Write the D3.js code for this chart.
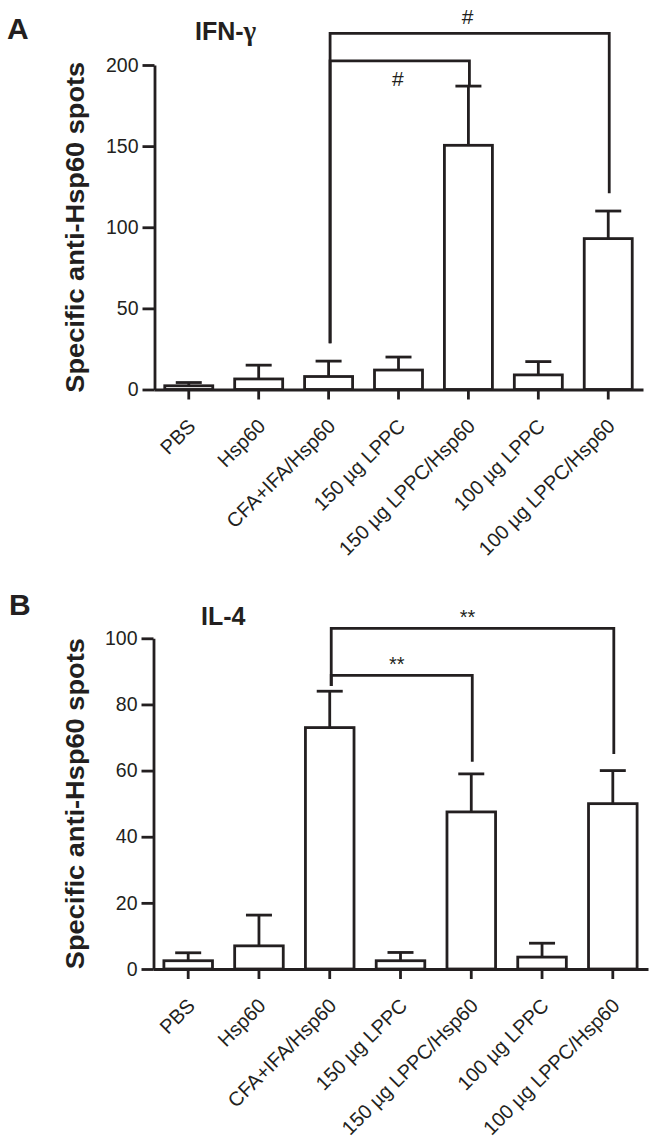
<!DOCTYPE html>
<html><head><meta charset="utf-8">
<script src="https://cdn.jsdelivr.net/npm/d3@7"></script>
<style>
html,body{margin:0;padding:0;background:#fff;}
svg{display:block;}
text{font-family:"Liberation Sans",Arial,Helvetica,sans-serif;fill:#231f20;}
</style></head>
<body>
<svg id="chart" width="658" height="1147"></svg>
<script>
// ---- data ----
const categories = ["PBS","Hsp60","CFA+IFA/Hsp60","150 µg LPPC","150 µg LPPC/Hsp60","100 µg LPPC","100 µg LPPC/Hsp60"];
const ifnMean = [2.3, 6.5, 8, 12, 150.5, 9, 93];
const ifnErr  = [2, 8.5, 9.5, 8, 36.5, 8.2, 17];
const il4Mean = [2.5, 7, 73, 2.5, 47.5, 3.6, 50];
const il4Err  = [2.4, 9.3, 11, 2.5, 11.5, 4.2, 10];
const ifnTicks = [0, 50, 100, 150, 200];
const il4Ticks = [0, 20, 40, 60, 80, 100];
// brackets: from category index, to category index, bracket level, leg ends, label
const ifnBrackets = [
  {from: 2, to: 4, level: 202.6, leftEnd: 28.5, rightEnd: 187, label: "#", labelBelow: true},
  {from: 2, to: 6, level: 219.5, leftEnd: 28.5, rightEnd: 121, label: "#", labelBelow: false}
];
const il4Brackets = [
  {from: 2, to: 4, level: 88.8, leftEnd: 85.6, rightEnd: 62.7, label: "**", labelBelow: false},
  {from: 2, to: 6, level: 103, leftEnd: 85.6, rightEnd: 65, label: "**", labelBelow: false}
];
const yTitle = "Specific anti-Hsp60 spots";

const ink = "#231f20";
const svg = d3.select("#chart");
svg.append("rect").attr("width",658).attr("height",1147).attr("fill","#fff");

function panel(cfg){
  const g = svg.append("g");
  const x = d3.scaleBand().domain(categories).range(cfg.xRange).paddingInner(0.3135).paddingOuter(0.154);
  const y = d3.scaleLinear().domain(cfg.yDomain).range(cfg.yRange);
  const bw = x.bandwidth();
  const cx = i => x(categories[i]) + bw/2;

  // bars
  g.selectAll("rect.bar").data(cfg.mean).join("rect")
    .attr("x",(d,i)=>x(categories[i]))
    .attr("y",d=>y(d))
    .attr("width",bw)
    .attr("height",d=>y(0)-y(d))
    .attr("fill","#fff").attr("stroke",ink).attr("stroke-width",2.8);
  // error bars
  const eg = g.selectAll("g.err").data(cfg.mean).join("g");
  eg.append("line").attr("x1",(d,i)=>cx(i)).attr("x2",(d,i)=>cx(i))
    .attr("y1",d=>y(d)).attr("y2",(d,i)=>y(d+cfg.err[i]))
    .attr("stroke",ink).attr("stroke-width",2.8);
  eg.append("line").attr("x1",(d,i)=>cx(i)-13).attr("x2",(d,i)=>cx(i)+13)
    .attr("y1",(d,i)=>y(d+cfg.err[i])).attr("y2",(d,i)=>y(d+cfg.err[i]))
    .attr("stroke",ink).attr("stroke-width",2.8);

  // y axis
  const ya = g.append("g").attr("transform",`translate(${cfg.xRange[0]+0.5},0)`)
    .call(d3.axisLeft(y).tickValues(cfg.ticks).tickSize(12).tickSizeOuter(0).tickPadding(4));
  ya.selectAll("path,line").attr("stroke",ink).attr("stroke-width",2.8);
  ya.selectAll("text").attr("font-size",19.5).attr("fill",ink).attr("font-family","Liberation Sans, Arial, sans-serif");

  // x axis
  const xa = g.append("g").attr("transform",`translate(0,${y(0)})`)
    .call(d3.axisBottom(x).tickSize(10).tickSizeOuter(0).tickFormat(""));
  xa.select("path").attr("stroke",ink).attr("stroke-width",2.8);
  xa.selectAll("line").attr("stroke",ink).attr("stroke-width",2.8);

  // x labels
  g.selectAll("text.xl").data(categories).join("text")
    .attr("class","xl")
    .attr("transform",(d,i)=>`translate(${cx(i)+8},${y(0)+38}) rotate(-45)`)
    .attr("text-anchor","end").attr("font-size",20).text(d=>d);

  // y title
  g.append("text")
    .attr("transform",`translate(84,${(cfg.yRange[0]+cfg.yRange[1])/2}) rotate(-90)`)
    .attr("text-anchor","middle").attr("font-weight","bold").attr("font-size",25.5)
    .attr("textLength",331).attr("lengthAdjust","spacingAndGlyphs")
    .text(yTitle);

  // brackets
  cfg.brackets.forEach(b=>{
    const x1 = cx(b.from)+1.5, x2 = cx(b.to)+1;
    g.append("path")
      .attr("d",`M${x1},${y(b.leftEnd)}L${x1},${y(b.level)}L${x2},${y(b.level)}L${x2},${y(b.rightEnd)}`)
      .attr("fill","none").attr("stroke",ink).attr("stroke-width",2.8).attr("stroke-linejoin","miter");
    const mx = (x1+x2)/2 + cfg.labelShift;
    g.append("text").attr("x",mx)
      .attr("y", b.labelBelow ? y(b.level)+25 : y(b.level)-cfg.labelGap)
      .attr("text-anchor","middle").attr("font-size",cfg.labelSize).text(b.label);
  });

  // panel letter and title
  svg.append("text").attr("x",cfg.letterX).attr("y",cfg.letterY).attr("font-weight","bold").attr("font-size",30).text(cfg.letter);
  const t = svg.append("text").attr("x",cfg.titleX).attr("y",cfg.titleY).attr("font-weight","bold").attr("font-size",25);
  t.append("tspan").text(cfg.title);
  if(cfg.greek){ t.append("tspan").attr("font-family","Liberation Serif, Times New Roman, serif").attr("font-weight","bold").attr("font-size",27).text(cfg.greek); }
}

panel({mean: ifnMean, err: ifnErr, ticks: ifnTicks, yDomain:[0,200], yRange:[389.5,65], xRange:[154,643],
  brackets: ifnBrackets, labelShift: -2, labelGap: 9, labelSize: 21, letter:"A", letterX:7, letterY:39, title:"IFN-", greek:"γ", titleX:195, titleY:40});
panel({mean: il4Mean, err: il4Err, ticks: il4Ticks, yDomain:[0,100], yRange:[969,638.3], xRange:[153,648],
  brackets: il4Brackets, labelShift: -5, labelGap: 4, labelSize: 20, letter:"B", letterX:9, letterY:615, title:"IL-4", greek:null, titleX:201, titleY:625});
</script>
</body></html>
